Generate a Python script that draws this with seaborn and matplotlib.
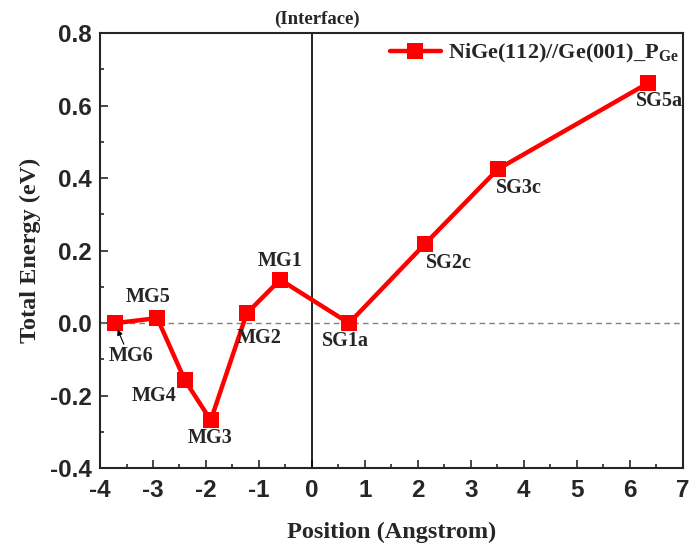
import numpy as np
import pandas as pd
import matplotlib
matplotlib.use("Agg")
import matplotlib.pyplot as plt
import seaborn as sns

sns.set_style("ticks")
plt.rcParams['font.family'] = ['Liberation Sans', 'DejaVu Sans']
plt.rcParams['mathtext.fontset'] = 'custom'
plt.rcParams['mathtext.rm'] = 'Liberation Serif:bold'
plt.rcParams['axes.unicode_minus'] = False

# values
sites = ["MG6", "MG5", "MG4", "MG3", "MG2", "MG1", "SG1a", "SG2c", "SG3c", "SG5a"]
position = [-3.72, -2.92, -2.40, -1.91, -1.23, -0.60, 0.70, 2.13, 3.51, 6.34]
energy = [0.0, 0.014, -0.157, -0.268, 0.027, 0.120, 0.0, 0.218, 0.425, 0.662]
# label offsets in pixels
offsets = [(16, -33), (-9, 21), (-31, -16), (-1, -18), (12, -25),
           (0, 19), (-4, -18), (24, -19), (21, -19), (12, -18)]

df = pd.DataFrame({"Position": position, "Energy": energy, "site": sites})

fig = plt.figure(figsize=(6.96, 5.54), dpi=100)
ax = fig.add_axes([0.1437, 0.155, 0.8373, 0.785])

ax.axhline(0, color='gray', linestyle='--', linewidth=1, dashes=(4, 3), zorder=1)
ax.axvline(0, color='black', linewidth=1.2, zorder=1)

sns.lineplot(data=df, x="Position", y="Energy", ax=ax, color='#ff0000',
             linewidth=3.2, marker='s', markersize=11, markeredgewidth=0,
             label=r"NiGe(112)//Ge(001)_P$_{\mathregular{Ge}}$", sort=False, zorder=3)

serif_bold = dict(family='Liberation Serif', weight='bold', size=14.5)
for name, x, y, off in zip(sites, position, energy, offsets):
    ax.annotate(name, xy=(x, y), xytext=off, textcoords='offset pixels',
                ha='center', va='center', **serif_bold)

# little arrow pointing at the MG6 square
ax.annotate("", xy=(position[0], energy[0]), xytext=(9, -21), textcoords='offset pixels',
            arrowprops=dict(arrowstyle='-|>', color='black', lw=0.8,
                            mutation_scale=8, shrinkA=0, shrinkB=5), zorder=4)

ax.text(0.1, 1.012, "(Interface)", transform=ax.get_xaxis_transform(),
        ha='center', va='bottom', family='Liberation Serif', weight='bold', size=13.5)

ax.set_xlim(-4, 7)
ax.set_ylim(-0.4, 0.8)
ax.set_xticks(np.arange(-4, 8, 1))
ax.set_xticks(np.arange(-4, 7.5, 0.5), minor=True)
ax.set_yticks(np.arange(-0.4, 0.81, 0.2))
ax.set_yticks(np.arange(-0.4, 0.81, 0.1), minor=True)
ax.yaxis.set_major_formatter(matplotlib.ticker.FormatStrFormatter('%.1f'))
ax.tick_params(which='both', direction='in', top=False, right=False, width=1.2)
ax.tick_params(which='major', length=6, labelsize=17.5)
ax.tick_params(axis='x', which='major', pad=8)
ax.tick_params(axis='y', which='major', pad=6)
ax.tick_params(which='minor', length=3)
for lab in ax.get_xticklabels() + ax.get_yticklabels():
    lab.set_fontweight('bold')
for s in ax.spines.values():
    s.set_linewidth(1.5)
    s.set_visible(True)

ax.set_xlabel("Position (Angstrom)", family='Liberation Serif', weight='bold', size=17.5, labelpad=14)
ax.set_ylabel("Total Energy (eV)", family='Liberation Serif', weight='bold', size=17.5, labelpad=6)

leg = ax.legend(loc='upper right', bbox_to_anchor=(1.008, 1.0), frameon=False,
                prop=dict(family='Liberation Serif', weight='bold', size=16),
                handlelength=2.3, handletextpad=0.3, borderaxespad=0.1, borderpad=0.3)

fig.savefig("out.png", dpi=100)
